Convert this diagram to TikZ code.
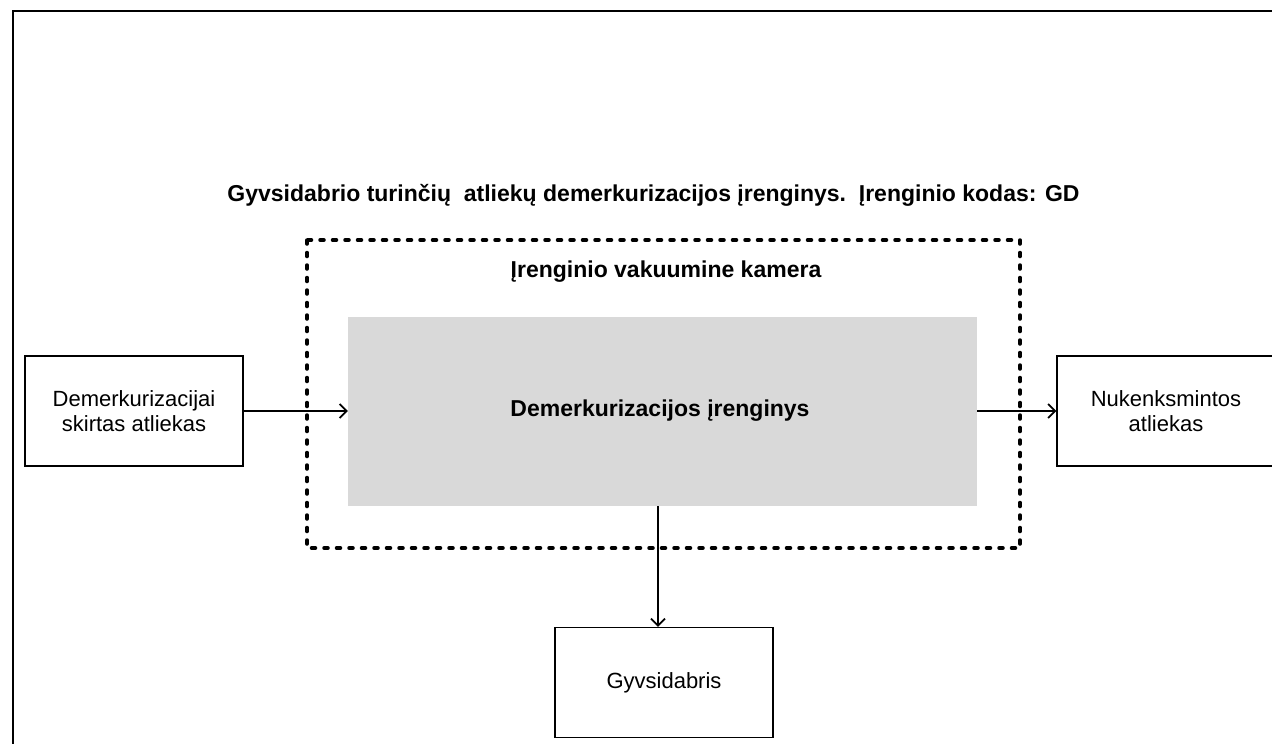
\documentclass[tikz,border=0pt]{standalone}
\usepackage{fontspec}
\setmainfont{Liberation Sans}
\usetikzlibrary{arrows.meta}
\begin{document}
\begin{tikzpicture}[x=1pt,y=-1pt,
  box/.style={draw=black,line width=1.3pt,fill=white,minimum width=218pt,minimum height=110pt,inner sep=0pt,align=center,font=\fontsize{22}{25}\selectfont},
  lbl/.style={font=\bfseries\fontsize{23}{27}\selectfont,inner sep=0pt},
  arr/.style={line width=1.8pt,-{Straight Barb[length=7pt,width=14pt,line width=1.8pt]}}
]
\useasboundingbox (0,0) rectangle (1272,744);
\clip (0,0) rectangle (1272,744);
\fill[white] (0,0) rectangle (1272,744);
\draw[line width=2pt] (13,800) -- (13,11) -- (1300,11);
\node[lbl] (title) at (653.5,195) {Gyvsidabrio turinčių\ \ atliekų demerkurizacijos įrenginys.\ \ Įrenginio kodas: GD};
\draw[line width=3.5pt,line cap=round,dash pattern=on 4pt off 8.5pt] (307,240) rectangle (1020,548);
\node[lbl] (cam) at (666,272) {Įrenginio vakuumine kamera};
\node[fill={rgb,255:red,217;green,217;blue,217},minimum width=629pt,minimum height=189pt,inner sep=0pt] (gd) at (662.5,411.5) {};
\node[lbl] at (660,411) {Demerkurizacijos įrenginys};
\node[box] (in) at (134,411) {Demerkurizacijai\\skirtas atliekas};
\node[box] (out) at (1166,411) {Nukenksmintos\\atliekas};
\node[box] (hg) at (664,682.5) {Gyvsidabris};
\draw[arr] (in.east) -- (gd.west |- in.east);
\draw[arr] (gd.east |- out.west) -- (out.west);
\draw[arr] (gd.south -| 658,0) -- (hg.north -| 658,0);
\end{tikzpicture}
\end{document}
